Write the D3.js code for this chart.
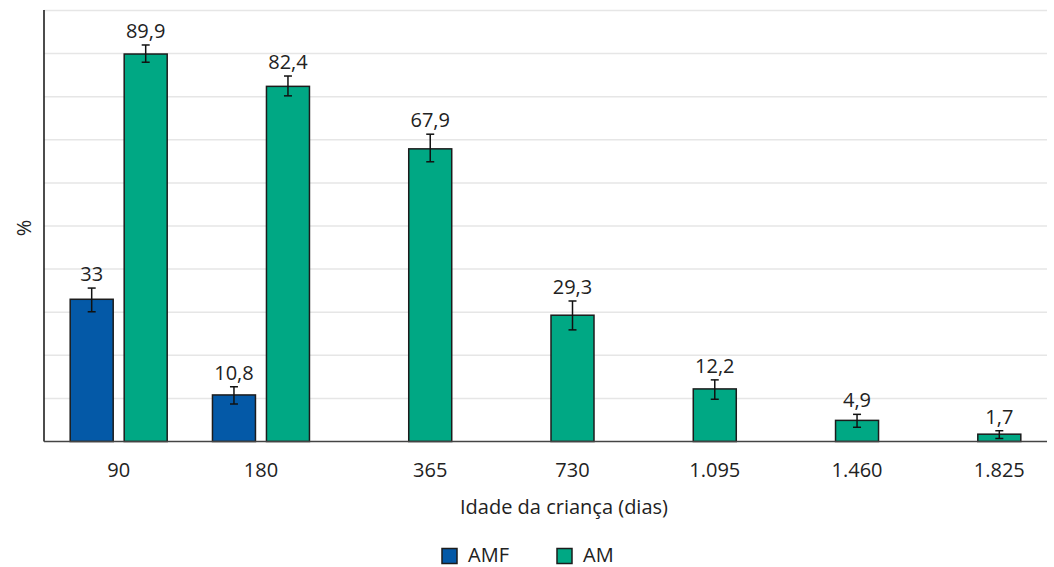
<!DOCTYPE html>
<html>
<head>
<meta charset="utf-8">
<script src="https://cdn.jsdelivr.net/npm/d3@7"></script>
<style>
  html, body { margin: 0; padding: 0; background: #fff; }
  text { font-family: "Open Sans", Lato, sans-serif; fill: #222; }
</style>
</head>
<body>
<svg id="chart" width="1054" height="567"></svg>
<script>
// Breastfeeding prevalence by child age (days)
const categories = ["90", "180", "365", "730", "1.095", "1.460", "1.825"];
const series = ["AMF", "AM"];
const colors = ["#0459a7", "#00a884"];

// Point estimates (%), null where not reported
const amfValues = [33, 10.8, null, null, null, null, null];
const amValues  = [89.9, 82.4, 67.9, 29.3, 12.2, 4.9, 1.7];

// 95% confidence limits
const amfLower = [30.1, 8.7, null, null, null, null, null];
const amfUpper = [35.6, 12.7, null, null, null, null, null];
const amLower  = [88.0, 80.2, 64.9, 25.9, 9.8, 3.3, 0.7];
const amUpper  = [92.0, 84.8, 71.3, 32.6, 14.3, 6.3, 2.5];

const yTicks = [0, 10, 20, 30, 40, 50, 60, 70, 80, 90, 100];

const fmt = v => String(v).replace(".", ",");

const svg = d3.select("#chart");
const plot = { left: 44, right: 1047, top: 10, bottom: 441.5 };
const fontSize = 20;

const x0 = d3.scaleBand()
  .domain(categories)
  .range([plot.left, plot.right])
  .paddingInner(0)
  .paddingOuter(0.025);

const innerPad = 11 / 54;
const x1 = d3.scaleBand()
  .domain(series)
  .range([0, x0.bandwidth()])
  .paddingInner(innerPad)
  .paddingOuter((x0.bandwidth() / 54 - 2 + innerPad) / 2);

const y = d3.scaleLinear().domain([0, 100]).range([plot.bottom, 10.5]);

// Horizontal gridlines
svg.append("g")
  .selectAll("line")
  .data(yTicks.slice(1))
  .join("line")
  .attr("x1", plot.left)
  .attr("x2", plot.right)
  .attr("y1", d => y(d))
  .attr("y2", d => y(d))
  .attr("stroke", "#e6e6e6")
  .attr("stroke-width", 1.5);

// Flatten into records, one per bar
const valueSets = [amfValues, amValues];
const lowerSets = [amfLower, amLower];
const upperSets = [amfUpper, amUpper];
const records = [];
categories.forEach((c, i) => {
  series.forEach((s, j) => {
    if (valueSets[j][i] != null) {
      records.push({
        cat: c, series: s, color: colors[j],
        value: valueSets[j][i], lo: lowerSets[j][i], hi: upperSets[j][i],
        cx: x0(c) + x1(s) + x1.bandwidth() / 2
      });
    }
  });
});

const bars = svg.append("g");
bars.selectAll("rect")
  .data(records)
  .join("rect")
  .attr("x", d => d.cx - x1.bandwidth() / 2)
  .attr("y", d => y(d.value))
  .attr("width", x1.bandwidth())
  .attr("height", d => y(0) - y(d.value))
  .attr("fill", d => d.color)
  .attr("stroke", "#1c1c1c")
  .attr("stroke-width", 1.5);

// Error bars
const err = svg.append("g").attr("stroke", "#111").attr("stroke-width", 1.5);
records.forEach(d => {
  err.append("line").attr("x1", d.cx).attr("x2", d.cx).attr("y1", y(d.hi)).attr("y2", y(d.lo));
  err.append("line").attr("x1", d.cx - 4).attr("x2", d.cx + 4).attr("y1", y(d.hi)).attr("y2", y(d.hi));
  err.append("line").attr("x1", d.cx - 4).attr("x2", d.cx + 4).attr("y1", y(d.lo)).attr("y2", y(d.lo));
});

// Value labels
svg.append("g")
  .selectAll("text")
  .data(records)
  .join("text")
  .attr("x", d => d.cx)
  .attr("y", d => y(d.hi) - 7)
  .attr("text-anchor", "middle")
  .attr("font-size", fontSize)
  .text(d => fmt(d.value));

// Axes
svg.append("line")
  .attr("x1", plot.left).attr("x2", plot.left)
  .attr("y1", plot.top).attr("y2", plot.bottom)
  .attr("stroke", "#111").attr("stroke-width", 1.5);
svg.append("line")
  .attr("x1", plot.left).attr("x2", plot.right)
  .attr("y1", plot.bottom).attr("y2", plot.bottom)
  .attr("stroke", "#444").attr("stroke-width", 1.5);

// Category labels, centred under the bars present in each group
svg.append("g")
  .selectAll("text")
  .data(categories)
  .join("text")
  .attr("x", c => d3.mean(records.filter(r => r.cat === c), r => r.cx))
  .attr("y", 477)
  .attr("text-anchor", "middle")
  .attr("font-size", fontSize)
  .text(c => c);

svg.append("text")
  .attr("x", 564)
  .attr("y", 514)
  .attr("text-anchor", "middle")
  .attr("font-size", fontSize)
  .text("Idade da criança (dias)");

svg.append("text")
  .attr("transform", "translate(31,228) rotate(-90)")
  .attr("text-anchor", "middle")
  .attr("font-size", fontSize)
  .text("%");

// Legend
const legend = svg.append("g");
const legendX = [442, 557];
series.forEach((s, i) => {
  legend.append("rect")
    .attr("x", legendX[i]).attr("y", 548.5)
    .attr("width", 15).attr("height", 15)
    .attr("fill", colors[i]).attr("stroke", "#1c1c1c").attr("stroke-width", 1.5);
  legend.append("text")
    .attr("x", legendX[i] + 26).attr("y", 562)
    .attr("font-size", fontSize)
    .text(s);
});
</script>
</body>
</html>
